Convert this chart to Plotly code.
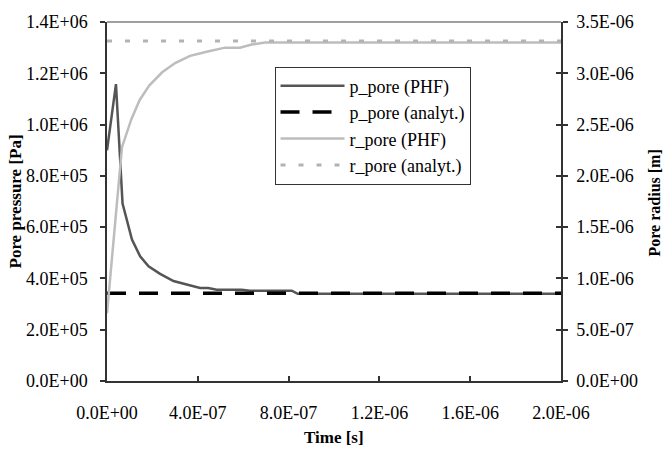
import plotly.graph_objects as go

# ---- data ----
t_p_phf = [0, 3.95e-8, 6.85e-8, 1.10e-7, 1.46e-7, 1.83e-7, 2.34e-7, 2.93e-7, 3.51e-7,
           4.10e-7, 4.46e-7, 4.83e-7, 5.93e-7, 6.30e-7, 8.14e-7, 8.40e-7, 2.0e-6]
p_phf = [9.0e5, 1.158e6, 6.92e5, 5.52e5, 4.86e5, 4.47e5, 4.18e5, 3.90e5, 3.76e5,
         3.63e5, 3.63e5, 3.56e5, 3.56e5, 3.52e5, 3.52e5, 3.40e5, 3.40e5]

t_p_analyt = [0, 2.0e-6]
p_analyt = [3.42e5, 3.42e5]

t_r_phf = [0, 6.6e-8, 1.07e-7, 1.44e-7, 1.86e-7, 2.43e-7, 3.0e-7, 3.66e-7, 4.39e-7,
           5.2e-7, 5.86e-7, 6.37e-7, 6.96e-7, 2.0e-6]
r_phf = [6.6e-7, 2.28e-6, 2.55e-6, 2.74e-6, 2.88e-6, 3.01e-6, 3.10e-6, 3.17e-6, 3.21e-6,
         3.25e-6, 3.25e-6, 3.28e-6, 3.30e-6, 3.30e-6]

t_r_analyt = [0, 2.0e-6]
r_analyt = [3.315e-6, 3.315e-6]

x_tickvals = [0, 4e-7, 8e-7, 1.2e-6, 1.6e-6, 2.0e-6]
x_ticktext = ["0.0E+00", "4.0E-07", "8.0E-07", "1.2E-06", "1.6E-06", "2.0E-06"]
y1_tickvals = [0, 2e5, 4e5, 6e5, 8e5, 1.0e6, 1.2e6, 1.4e6]
y1_ticktext = ["0.0E+00", "2.0E+05", "4.0E+05", "6.0E+05", "8.0E+05", "1.0E+06", "1.2E+06", "1.4E+06"]
y2_tickvals = [0, 5e-7, 1.0e-6, 1.5e-6, 2.0e-6, 2.5e-6, 3.0e-6, 3.5e-6]
y2_ticktext = ["0.0E+00", "5.0E-07", "1.0E-06", "1.5E-06", "2.0E-06", "2.5E-06", "3.0E-06", "3.5E-06"]

FONT = "Liberation Serif, Times New Roman, serif"

fig = go.Figure()
fig.add_trace(go.Scatter(x=t_p_phf, y=p_phf, mode="lines", name="p_pore (PHF)",
                         line=dict(color="#555555", width=2.5)))
fig.add_trace(go.Scatter(x=t_p_analyt, y=p_analyt, mode="lines", name="p_pore (analyt.)",
                         line=dict(color="#000000", width=3.5, dash="19px,13px")))
fig.add_trace(go.Scatter(x=t_r_phf, y=r_phf, mode="lines", name="r_pore (PHF)",
                         line=dict(color="#bdbdbd", width=2.5), yaxis="y2"))
fig.add_trace(go.Scatter(x=t_r_analyt, y=r_analyt, mode="lines", name="r_pore (analyt.)",
                         line=dict(color="#b3b3b3", width=3, dash="5px,13px"), yaxis="y2"))
# helper trace for inner half of right-axis cross ticks
fig.add_trace(go.Scatter(x=[None], y=[None], yaxis="y3", showlegend=False, hoverinfo="skip"))

axis_common = dict(showgrid=False, zeroline=False, linecolor="#333333", linewidth=1.5,
                   tickcolor="#333333", tickwidth=1.5, ticklen=5,
                   tickfont=dict(family=FONT, size=18, color="#000000"))

fig.update_layout(
    width=668, height=456,
    margin=dict(l=107, r=107, t=15, b=75),
    paper_bgcolor="white", plot_bgcolor="white",
    font=dict(family=FONT, color="#000000"),
    xaxis=dict(range=[0, 2.0e-6], tickvals=x_tickvals, ticktext=x_ticktext,
               ticks="inside", showline=True, ticklabelstandoff=15, **axis_common),
    yaxis=dict(range=[0, 1.4e6], tickvals=y1_tickvals, ticktext=y1_ticktext,
               ticks="outside", showline=True, ticklabelstandoff=9, **axis_common),
    yaxis2=dict(range=[0, 3.5e-6], tickvals=y2_tickvals, ticktext=y2_ticktext,
                overlaying="y", side="right", anchor="x",
                ticks="outside", showline=True, ticklabelstandoff=5, **axis_common),
    yaxis3=dict(range=[0, 3.5e-6], tickvals=y2_tickvals, overlaying="y", side="right",
                anchor="x", ticks="inside", ticklen=5, tickwidth=1.5, tickcolor="#333333",
                showticklabels=False, showline=False, showgrid=False, zeroline=False),
    legend=dict(x=0.369, y=0.876, xanchor="left", yanchor="top",
                bgcolor="white", bordercolor="#333333", borderwidth=1,
                font=dict(family=FONT, size=18, color="#000000"),
                tracegroupgap=0, itemwidth=64),
    showlegend=True,
    shapes=[dict(type="line", xref="paper", yref="paper", x0=0, x1=1, y0=1, y1=1,
                 line=dict(color="#a0a0a0", width=2))],
    annotations=[
        dict(text="<b>Pore pressure [Pa]</b>", xref="paper", yref="paper",
             x=(15 - 107) / 454, y=(381 - 198) / 366, textangle=-90, showarrow=False,
             xanchor="center", yanchor="middle", font=dict(family=FONT, size=17)),
        dict(text="<b>Pore radius [m]</b>", xref="paper", yref="paper",
             x=(654 - 107) / 454, y=(381 - 200) / 366, textangle=-90, showarrow=False,
             xanchor="center", yanchor="middle", font=dict(family=FONT, size=16)),
        dict(text="<b>Time [s]</b>", xref="paper", yref="paper",
             x=0.5, y=(381 - 439) / 366, showarrow=False,
             xanchor="center", yanchor="middle", font=dict(family=FONT, size=17)),
    ],
)

fig.write_html("out.html", config={"displayModeBar": False},
               post_script="document.body.style.margin='0';document.body.style.padding='0';")
